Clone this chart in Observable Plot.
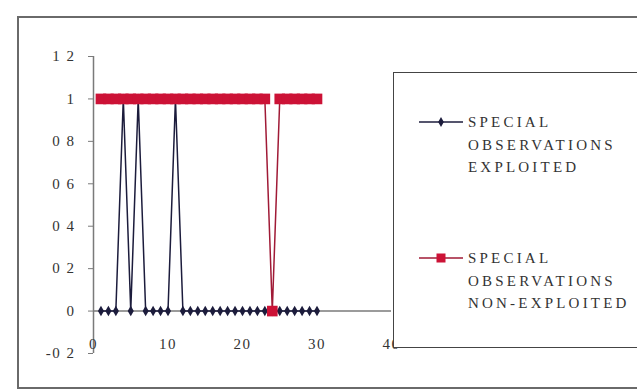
<!DOCTYPE html>
<html>
<head>
<meta charset="utf-8">
<script src="https://cdn.jsdelivr.net/npm/d3@7"></script>
<script src="https://cdn.jsdelivr.net/npm/@observablehq/plot@0.6"></script>
<style>
  html, body { margin: 0; padding: 0; background: #fff; }
  #wrap { position: relative; width: 637px; height: 391px; overflow: hidden; background: #fff; }
  #outer { position: absolute; left: 17px; top: 16px; width: 700px; height: 373px; border: 2px solid #6a6a6a; box-sizing: border-box; }
  #chart { position: absolute; left: 0; top: 0; }
  #chart text { letter-spacing: 1.5px; }
  #legend { position: absolute; left: 393px; top: 72px; width: 300px; height: 276px; border: 1.5px solid #444; background: #fff; box-sizing: border-box;
            font-family: "Liberation Serif", serif; font-size: 15px; color: #333; letter-spacing: 3.2px; }
  .item { position: absolute; left: 0; }
  .item svg { position: absolute; left: 25px; }
  .txt { position: absolute; left: 74px; line-height: 22.5px; white-space: nowrap; }
</style>
</head>
<body>
<div id="wrap">
  <div id="outer"></div>
  <div id="chart"></div>
  <div id="legend"></div>
</div>
<script>
// ---- data ----
const days = [1,2,3,4,5,6,7,8,9,10,11,12,13,14,15,16,17,18,19,20,21,22,23,24,25,26,27,28,29,30];
const exploited = [0,0,0,1,0,1,0,0,0,0,1,0,0,0,0,0,0,0,0,0,0,0,0,0,0,0,0,0,0,0];
const nonExploited = [1,1,1,1,1,1,1,1,1,1,1,1,1,1,1,1,1,1,1,1,1,1,1,0,1,1,1,1,1,1];
const seriesNames = ["SPECIAL OBSERVATIONS EXPLOITED", "SPECIAL OBSERVATIONS NON-EXPLOITED"];
const yTicks = [-0.2, 0, 0.2, 0.4, 0.6, 0.8, 1, 1.2];
const yTickLabels = ["-0 2", "0", "0 2", "0 4", "0 6", "0 8", "1", "1 2"];
const xTicks = [0, 10, 20, 30, 40];
const xTickLabels = ["0", "10", "20", "30", "40"];

const colBlack = "#1c1c3c";
const colRed = "#cc1236";
const colRedLine = "#a01a36";

const dataA = days.map((d, i) => ({day: d, v: exploited[i]}));
const dataB = days.map((d, i) => ({day: d, v: nonExploited[i]}));

const chart = Plot.plot({
  width: 637,
  height: 391,
  marginLeft: 93,
  marginRight: 246,
  marginTop: 56,
  marginBottom: 38,
  style: {background: "transparent", fontFamily: "Liberation Serif, serif"},
  x: {domain: [0, 40], label: null, axis: null},
  y: {domain: [-0.2, 1.2], label: null, axis: null},
  marks: [
    Plot.ruleX([0], {stroke: "#7a7a7a", strokeWidth: 1.5}),
    Plot.ruleY([0], {stroke: "#7a7a7a", strokeWidth: 1.5}),
    Plot.axisY({ticks: yTicks, tickFormat: d => yTickLabels[yTicks.indexOf(d)], tickSize: 5, tickPadding: 13,
                fontSize: 15, stroke: "#7a7a7a", fill: "#333", label: null}),
    Plot.text(xTicks, {x: d => d, y: xTicks.map(() => 0), text: (d, i) => xTickLabels[i], dy: 33,
                       fontSize: 15, fill: "#333", lineAnchor: "middle"}),
    Plot.line(dataA, {x: "day", y: "v", stroke: colBlack, strokeWidth: 1.5}),
    Plot.dot(dataA, {x: "day", y: "v", symbol: "diamond", r: 3.2, fill: colBlack, stroke: "none"}),
    Plot.line(dataB, {x: "day", y: "v", stroke: colRedLine, strokeWidth: 1.5}),
    Plot.dot(dataB, {x: "day", y: "v", symbol: "square", r: 6, fill: colRed, stroke: "none"})
  ]
});
document.getElementById("chart").appendChild(chart);

// ---- legend ----
const legend = document.getElementById("legend");
const items = [
  {lines: ["SPECIAL", "OBSERVATIONS", "EXPLOITED"], color: colBlack, line: colBlack, sym: "diamond", top: 38},
  {lines: ["SPECIAL", "OBSERVATIONS", "NON-EXPLOITED"], color: colRed, line: colRedLine, sym: "square", top: 174}
];
items.forEach(it => {
  const div = document.createElement("div");
  div.className = "item";
  div.style.top = it.top + "px";
  const s = d3.create("svg").attr("width", 44).attr("height", 22).style("top", "0px");
  s.append("line").attr("x1", 0).attr("x2", 44).attr("y1", 11).attr("y2", 11).attr("stroke", it.line).attr("stroke-width", 1.5);
  if (it.sym === "diamond") {
    s.append("path").attr("d", d3.symbol(d3.symbolDiamond, 28)()).attr("transform", "translate(22,11)").attr("fill", it.color);
  } else {
    s.append("rect").attr("x", 17.5).attr("y", 6.5).attr("width", 9).attr("height", 9).attr("fill", it.color);
  }
  div.appendChild(s.node());
  const t = document.createElement("div");
  t.className = "txt";
  t.style.top = "0px";
  t.innerHTML = it.lines.join("<br>");
  div.appendChild(t);
  legend.appendChild(div);
});
</script>
</body>
</html>
